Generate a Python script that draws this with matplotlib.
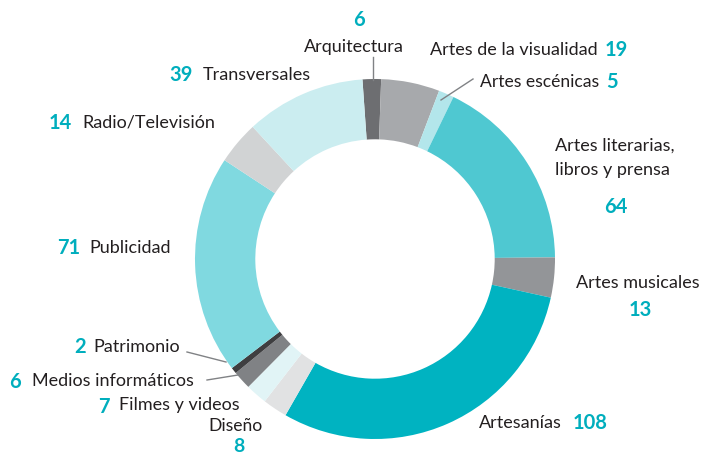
import matplotlib
matplotlib.use("Agg")
import matplotlib.pyplot as plt

# donut chart: counts by sector, clockwise from the top
sectors = ["Arquitectura", "Artes de la visualidad", "Artes escénicas",
           "Artes literarias,\nlibros y prensa", "Artes musicales", "Artesanías",
           "Diseño", "Filmes y videos", "Medios informáticos", "Patrimonio",
           "Publicidad", "Radio/Televisión", "Transversales"]
counts = [6, 19, 5, 64, 13, 108, 8, 7, 6, 2, 71, 14, 39]
colors = ["#6d6e71", "#a7a9ac", "#b3e6eb", "#4fc8d1", "#939598", "#00b3c1",
          "#e1e2e3", "#e1f4f6", "#808285", "#3e3e40", "#80d9e0", "#d1d3d4",
          "#cbedf0"]

W, H = 705, 455
TEAL = "#00aebd"
TXT = "#231f20"
FONT = "Lato"

plt.rcParams["font.family"] = [FONT, "DejaVu Sans"]

fig = plt.figure(figsize=(W / 100, H / 100), dpi=100)
ax = fig.add_axes([0, 0, 1, 1])
ax.set_xlim(0, W)
ax.set_ylim(0, H)
ax.set_aspect("equal")
ax.axis("off")

cx, cy, r = 375, H - 259, 180
ax.pie(counts, colors=colors, startangle=94, counterclock=False,
       center=(cx, cy), radius=r, wedgeprops=dict(width=r * 0.335, linewidth=0))
ax.set_xlim(0, W)
ax.set_ylim(0, H)


def py(y):
    return H - y


def label(x, y, s, ha="left", size=13):
    ax.text(x, py(y), s, ha=ha, va="center", fontsize=size, color=TXT)


def num(x, y, s, ha="left", size=14.5):
    ax.text(x, py(y), s, ha=ha, va="center", fontsize=size, color=TEAL,
            fontweight="bold")


def leader(x0, y0, x1, y1):
    ax.plot([x0, x1], [py(y0), py(y1)], color="#808285", lw=1)


# Arquitectura
num(359, 20, str(counts[0]), ha="center")
label(354, 47, sectors[0], ha="center")
leader(372.5, 57, 372.5, 80)

# Artes de la visualidad
label(430, 50, sectors[1])
num(605, 50, str(counts[1]))

# Artes escénicas
label(480, 82, sectors[2], size=12.6)
num(606, 82, str(counts[2]))
leader(441, 100, 473, 79)

# Artes literarias
ax.text(555, py(158), sectors[3], ha="left", va="center", fontsize=13,
        color=TXT, linespacing=1.6)
num(616, 207, str(counts[3]), ha="center")

# Artes musicales
label(576, 283, sectors[4])
num(640, 310, str(counts[4]), ha="center")

# Artesanías
label(479, 423, sectors[5])
num(573, 423, str(counts[5]))

# Diseño
label(236, 426, sectors[6], ha="center", size=12.6)
num(239, 447, str(counts[6]), ha="center", size=14)

# Filmes y videos
num(110, 407, str(counts[7]), ha="right")
label(119, 405, sectors[7])

# Medios informáticos
num(21, 382, str(counts[8]), ha="right")
label(32, 381, sectors[8])
leader(207, 380, 238, 375)

# Patrimonio
num(86, 347, str(counts[9]), ha="right")
label(93, 347, sectors[9])
leader(187, 352, 226, 362)

# Publicidad
num(80, 248, str(counts[10]), ha="right")
label(89, 248, sectors[10])

# Radio/Televisión
num(72, 123, str(counts[11]), ha="right")
label(82, 123, sectors[11])

# Transversales
num(193, 75, str(counts[12]), ha="right")
label(203, 75, sectors[12])

fig.savefig("out.png", dpi=100)
